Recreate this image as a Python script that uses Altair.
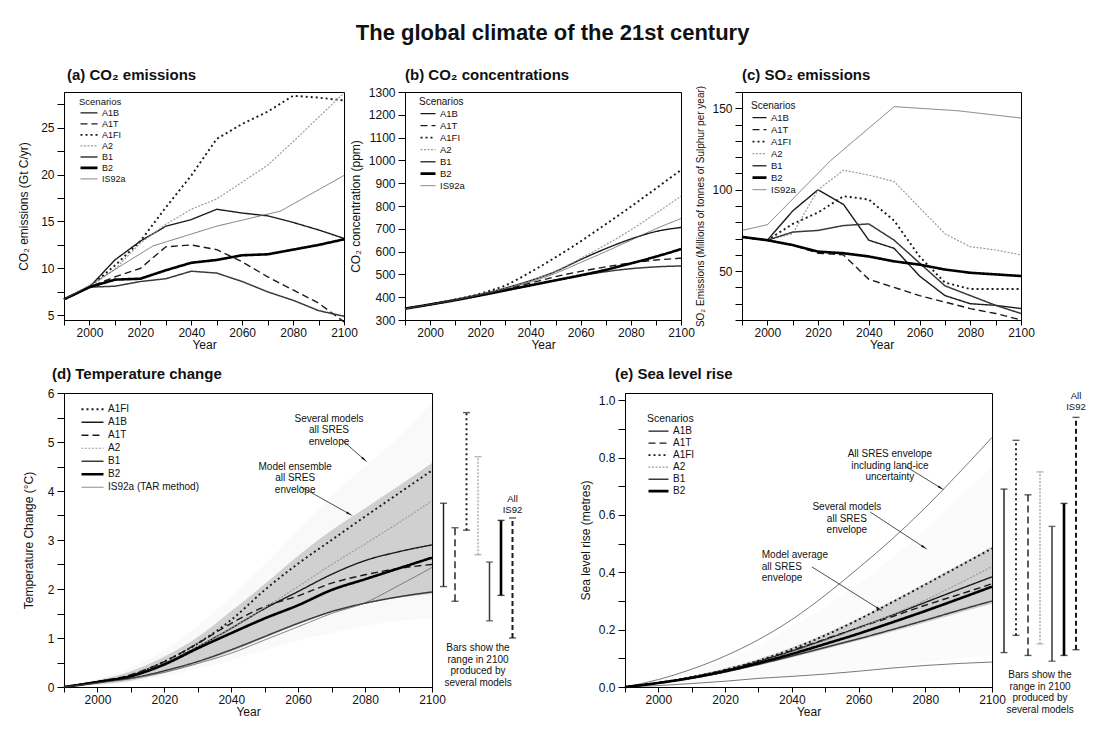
import math
import altair as alt
import pandas as pd

FONT = "Liberation Sans"

# ------------------------------------------------------------------ data
YEARS = list(range(1990, 2101, 10))
IS92_YEARS = [1990, 2000, 2025, 2050, 2075, 2100]
YEAR_TICKS = list(range(1990, 2101, 10))

ORDER_ABC = ["A1B", "A1T", "A1FI", "A2", "B1", "B2", "IS92a"]
ORDER_D = ["A1FI", "A1B", "A1T", "A2", "B1", "B2", "IS92a (TAR method)"]
ORDER_E = ["A1B", "A1T", "A1FI", "A2", "B1", "B2"]

# (a) CO2 emissions, Gt C/yr
CO2_EMIS = {
    "A1B":  [6.7, 8.0, 10.9, 12.9, 14.5, 15.2, 16.3, 15.9, 15.6, 14.9, 14.1, 13.2],
    "A1T":  [6.7, 8.0, 9.1, 10.0, 12.3, 12.5, 12.0, 10.7, 9.1, 7.7, 6.3, 4.3],
    "A1FI": [6.7, 8.0, 10.3, 12.9, 16.5, 19.9, 23.8, 25.4, 26.7, 28.4, 28.2, 27.9],
    "A2":   [6.7, 8.0, 9.9, 12.7, 14.7, 16.3, 17.4, 19.2, 21.0, 23.5, 26.1, 28.7],
    "B1":   [6.7, 8.0, 8.1, 8.6, 8.9, 9.7, 9.5, 8.6, 7.5, 6.6, 5.5, 4.9],
    "B2":   [6.7, 8.0, 8.8, 8.9, 9.8, 10.6, 10.9, 11.4, 11.5, 12.0, 12.5, 13.1],
    "IS92a": [6.7, 8.2, 12.4, 14.5, 16.1, 19.9],
}

# (b) CO2 concentrations, ppm
CO2_CONC = {
    "A1B":  [350, 368, 388, 412, 440, 473, 513, 565, 613, 655, 688, 706],
    "A1T":  [350, 368, 388, 410, 435, 462, 490, 513, 533, 550, 563, 571],
    "A1FI": [350, 368, 390, 416, 452, 510, 575, 645, 720, 797, 877, 958],
    "A2":   [350, 368, 388, 412, 440, 474, 515, 570, 630, 695, 768, 843],
    "B1":   [350, 368, 387, 408, 430, 452, 474, 494, 512, 525, 533, 537],
    "B2":   [350, 368, 387, 408, 430, 452, 474, 496, 520, 548, 578, 611],
    "IS92a": [350, 368, 388, 411, 437, 467, 505, 552, 600, 650, 700, 745],
}

# (c) SO2 emissions, Mt S/yr
SO2_EMIS = {
    "A1B":  [71, 69, 87, 100, 91, 69, 64, 47, 35, 30, 29, 27],
    "A1T":  [71, 69, 66, 61, 60, 45, 40, 35, 31, 27, 24, 20],
    "A1FI": [71, 69, 79, 86, 96, 94, 81, 59, 43, 39, 39, 39],
    "A2":   [71, 69, 73, 100, 112, 109, 105, 89, 73, 65, 63, 60],
    "B1":   [71, 69, 74, 75, 78, 79, 69, 55, 41, 35, 29, 24],
    "B2":   [71, 69, 66, 62, 61, 59, 56, 54, 51, 49, 48, 47],
    "IS92a": [75, 78.5, 118, 151, 148.5, 144],
}

# (d) temperature change, deg C
TEMP = {
    "A1FI": [0, 0.11, 0.24, 0.52, 0.89, 1.37, 1.98, 2.52, 3.00, 3.48, 3.95, 4.42],
    "A1B":  [0, 0.11, 0.23, 0.48, 0.82, 1.20, 1.60, 1.95, 2.30, 2.58, 2.76, 2.90],
    "A1T":  [0, 0.11, 0.25, 0.52, 0.89, 1.30, 1.64, 1.86, 2.12, 2.29, 2.42, 2.50],
    "A2":   [0, 0.10, 0.22, 0.48, 0.82, 1.20, 1.62, 2.05, 2.50, 2.92, 3.35, 3.80],
    "B1":   [0, 0.10, 0.18, 0.33, 0.52, 0.76, 1.03, 1.30, 1.54, 1.71, 1.84, 1.94],
    "B2":   [0, 0.10, 0.22, 0.46, 0.79, 1.10, 1.40, 1.67, 1.98, 2.20, 2.42, 2.64],
    "IS92a (TAR method)": [0, 0.08, 0.17, 0.30, 0.48, 0.69, 0.96, 1.23, 1.50, 1.72, 2.07, 2.44],
}
TEMP_ENS_LO = [0, 0.05, 0.13, 0.28, 0.48, 0.72, 1.00, 1.28, 1.52, 1.70, 1.82, 1.90]
TEMP_ENS_HI = [0, 0.14, 0.32, 0.62, 1.02, 1.55, 2.10, 2.68, 3.20, 3.65, 4.10, 4.57]
TEMP_ALL_LO = [0, 0.04, 0.10, 0.22, 0.38, 0.55, 0.75, 0.95, 1.10, 1.25, 1.35, 1.40]
TEMP_ALL_HI = [0, 0.17, 0.40, 0.75, 1.25, 1.85, 2.50, 3.20, 3.90, 4.50, 5.10, 5.80]

TEMP_BAR_CATS = ["A1B", "A1T", "A1FI", "A2", "B1", "B2", "All IS92"]
TEMP_BAR_LO = [2.05, 1.75, 3.20, 2.70, 1.35, 1.87, 1.00]
TEMP_BAR_HI = [3.75, 3.25, 5.60, 4.70, 2.55, 3.40, 3.45]

# (e) sea level rise, metres
SEA = {
    "A1B":  [0, 0.015, 0.033, 0.058, 0.088, 0.125, 0.165, 0.207, 0.250, 0.295, 0.340, 0.384],
    "A1T":  [0, 0.015, 0.034, 0.059, 0.090, 0.127, 0.167, 0.207, 0.245, 0.285, 0.322, 0.360],
    "A1FI": [0, 0.015, 0.035, 0.060, 0.092, 0.132, 0.180, 0.235, 0.295, 0.357, 0.420, 0.483],
    "A2":   [0, 0.014, 0.032, 0.056, 0.086, 0.122, 0.162, 0.205, 0.252, 0.303, 0.360, 0.420],
    "B1":   [0, 0.014, 0.031, 0.053, 0.079, 0.108, 0.138, 0.168, 0.200, 0.233, 0.267, 0.300],
    "B2":   [0, 0.014, 0.032, 0.055, 0.083, 0.115, 0.150, 0.186, 0.225, 0.265, 0.307, 0.350],
}
SEA_AVG_LO = [0, 0.012, 0.028, 0.049, 0.075, 0.103, 0.132, 0.162, 0.193, 0.225, 0.258, 0.290]
SEA_AVG_HI = [0, 0.017, 0.038, 0.065, 0.098, 0.138, 0.186, 0.240, 0.300, 0.362, 0.425, 0.490]
SEA_MOD_LO = [0, 0.005, 0.012, 0.020, 0.030, 0.040, 0.050, 0.060, 0.070, 0.085, 0.100, 0.110]
SEA_MOD_HI = [0, 0.025, 0.055, 0.095, 0.145, 0.210, 0.280, 0.360, 0.450, 0.550, 0.660, 0.770]
SEA_ICE_HI = [0, 0.026, 0.062, 0.108, 0.165, 0.235, 0.320, 0.415, 0.515, 0.625, 0.745, 0.870]
SEA_ICE_LO = [0, 0.005, 0.012, 0.020, 0.030, 0.037, 0.045, 0.055, 0.066, 0.075, 0.082, 0.087]

SEA_BAR_CATS = ["A1B", "A1FI", "A1T", "A2", "B1", "B2", "All IS92"]
SEA_BAR_LO = [0.12, 0.18, 0.11, 0.15, 0.09, 0.11, 0.13]
SEA_BAR_HI = [0.69, 0.86, 0.67, 0.75, 0.56, 0.64, 0.94]

# annotations (text, year, value) and arrows (from year, value -> to year, value)
D_NOTES = [("Several models\nall SRES\nenvelope", 2069.2, 5.47),
           ("Model ensemble\nall SRES\nenvelope", 2059.1, 4.49)]
D_ARROWS = [(2073.1, 5.04, 2079.6, 4.65), (2060.7, 4.09, 2075.1, 3.54)]
E_NOTES_C = [("All SRES envelope\nincluding land-ice\nuncertainty", 2069.4, 0.812),
             ("Several models\nall SRES\nenvelope", 2056.5, 0.627)]
E_NOTES_L = [("Model average\nall SRES\nenvelope", 2031.0, 0.46)]
E_ARROWS = [(2074.0, 0.77, 2084.5, 0.695), (2063.5, 0.61, 2079.5, 0.488),
            (2046.0, 0.419, 2066.0, 0.273)]

# ------------------------------------------------------------------ styles
STYLE = {
    "A1B": ("#1a1a1a", [1, 0], 1.4),
    "A1T": ("#1a1a1a", [7, 4], 1.4),
    "A1FI": ("#1a1a1a", [2, 3], 1.9),
    "A2": ("#9c9c9c", [2, 1.5], 1.2),
    "B1": ("#3a3a3a", [1, 0], 1.5),
    "B2": ("#000000", [1, 0], 2.6),
    "IS92a": ("#5a5a5a", [1, 0], 0.8),
    "IS92a (TAR method)": ("#5a5a5a", [1, 0], 0.8),
    "All IS92": ("#1a1a1a", [5, 3], 2.0),
}

WA, WB, WC, HT = 280, 276, 279, 228
WD, WE, HB = 368, 367, 294
WDB, WEB = 92, 96


def frame(series, order, years_override=None):
    rows = []
    for name in order:
        yrs = (years_override or {}).get(name, YEARS)
        for yr, v in zip(yrs, series[name]):
            rows.append({"year": yr, "value": v, "scenario": name})
    return pd.DataFrame(rows)


def x_enc(field="year"):
    return alt.X(field, type="quantitative",
                 scale=alt.Scale(domain=[1990, 2100], nice=False, zero=False),
                 axis=alt.Axis(values=YEAR_TICKS,
                               labelExpr="datum.value % 20 == 0 ? format(datum.value, 'd') : ''",
                               title="Year", labelFlush=False, tickSize=5,
                               labelPadding=2, titlePadding=1))


def y_enc(field, P):
    return alt.Y(field, type="quantitative",
                 scale=alt.Scale(domain=P["domain"], nice=False, zero=False),
                 axis=alt.Axis(values=P["ticks"], labelExpr=P["labels"], title=P["title"],
                               labelFlush=False, tickSize=7, labelPadding=3,
                               titlePadding=P["tpad"], titleFontSize=P["tsize"]))


def style_enc(order, title, leg):
    legend = alt.Legend(**leg)
    return dict(
        color=alt.Color("scenario:N", title=title, legend=legend,
                        scale=alt.Scale(domain=order, range=[STYLE[s][0] for s in order])),
        strokeDash=alt.StrokeDash("scenario:N", title=title, legend=legend,
                                  scale=alt.Scale(domain=order, range=[STYLE[s][1] for s in order])),
        strokeWidth=alt.StrokeWidth("scenario:N", title=title, legend=legend,
                                    scale=alt.Scale(type="ordinal", domain=order,
                                                    range=[STYLE[s][2] for s in order])),
    )


def legend_props(x, y, font, row_h, symsize):
    return dict(orient="none", legendX=x, legendY=y, symbolType="stroke", symbolSize=symsize,
                labelFontSize=font, titleFontSize=font + 0.5, titleFontWeight="normal",
                rowPadding=0, clipHeight=row_h, titlePadding=1, labelOffset=3, padding=0,
                labelFont=FONT, titleFont=FONT, labelColor="#111", titleColor="#111")


def ptitle(text, dx, offset):
    return alt.TitleParams(text=text, anchor="start", frame="group", fontSize=15,
                           fontWeight="bold", font=FONT, dx=dx, offset=offset, color="#111")


def lines(df, P, order, title, leg, interp):
    return alt.Chart(df).mark_line(interpolate=interp, strokeCap="butt").encode(
        x=x_enc(), y=y_enc("value", P), **style_enc(order, title, leg))


def band(lo, hi, P, color):
    df = pd.DataFrame({"year": YEARS, "lo": lo, "hi": hi})
    return alt.Chart(df).mark_area(color=color, interpolate="monotone").encode(
        x=x_enc(), y=y_enc("lo", P), y2="hi:Q")


def arrows(arr, P, w, h):
    ppx = w / 110.0
    ppy = h / (P["domain"][1] - P["domain"][0])
    rows = []
    for x1, y1, x2, y2 in arr:
        dxp = (x2 - x1) * ppx
        dyp = -(y2 - y1) * ppy
        ang = math.degrees(math.atan2(dxp, -dyp)) % 360
        rows.append({"x1": x1, "y1": y1, "x2": x2, "y2": y2, "ang": ang})
    df = pd.DataFrame(rows)
    shaft = alt.Chart(df).mark_rule(color="#222", strokeWidth=0.8).encode(
        x=x_enc("x1"), y=y_enc("y1", P), x2="x2:Q", y2="y2:Q")
    head = alt.Chart(df).mark_point(shape="wedge", filled=True, color="#111", size=70, opacity=1).encode(
        x=x_enc("x2"), y=y_enc("y2", P), angle=alt.Angle("ang:Q", scale=None))
    return [shaft, head]


def notes(items, P, align):
    df = pd.DataFrame([{"t": t, "x": x, "y": y} for t, x, y in items])
    return alt.Chart(df).mark_text(lineBreak="\n", align=align, baseline="middle", fontSize=10,
                                   lineHeight=11.5, font=FONT, color="#111").encode(
        x=x_enc("x"), y=y_enc("y", P), text="t:N")


def bars_panel(cats, lows, highs, P, w, h, pad, note_dy, top_dy):
    df = pd.DataFrame({"cat": cats, "lo": lows, "hi": highs})
    xs = alt.X("cat:N", scale=alt.Scale(type="point", domain=cats, padding=pad), axis=None)
    ys = alt.Scale(domain=P["domain"], nice=False, zero=False)
    col = alt.Color("cat:N", legend=None,
                    scale=alt.Scale(domain=cats, range=[STYLE[c][0] for c in cats]))
    dash = alt.StrokeDash("cat:N", legend=None,
                          scale=alt.Scale(domain=cats, range=[STYLE[c][1] for c in cats]))
    width = alt.StrokeWidth("cat:N", legend=None,
                            scale=alt.Scale(type="ordinal", domain=cats,
                                            range=[STYLE[c][2] for c in cats]))
    rule = alt.Chart(df).mark_rule().encode(
        x=xs, y=alt.Y("lo:Q", scale=ys, axis=None), y2="hi:Q",
        strokeDash=dash, strokeWidth=width, color=col)
    cap_lo = alt.Chart(df).mark_tick(size=7, thickness=1.4).encode(
        x=xs, y=alt.Y("lo:Q", scale=ys, axis=None), color=col)
    cap_hi = alt.Chart(df).mark_tick(size=7, thickness=1.4).encode(
        x=xs, y=alt.Y("hi:Q", scale=ys, axis=None), color=col)
    all_lab = alt.Chart(df[df["cat"] == "All IS92"]).mark_text(
        text="All\nIS92", lineBreak="\n", baseline="bottom", fontSize=9.5, lineHeight=11,
        font=FONT, color="#111", dy=top_dy).encode(x=xs, y=alt.Y("hi:Q", scale=ys, axis=None))
    note = alt.Chart(pd.DataFrame({"v": [P["domain"][0]]})).mark_text(
        text="Bars show the\nrange in 2100\nproduced by\nseveral models", lineBreak="\n",
        baseline="middle", fontSize=10, lineHeight=11.5, font=FONT, color="#111",
        dy=note_dy).encode(x=alt.value(w / 2), y=alt.Y("v:Q", scale=ys, axis=None))
    return alt.layer(rule, cap_lo, cap_hi, all_lab, note).properties(
        width=w, height=h, view=alt.ViewConfig(strokeOpacity=0))


# ------------------------------------------------------------------ axes per panel
PA = dict(domain=[4.5, 28.8], ticks=[5 + 2.5 * i for i in range(10)],
          labels="datum.value % 5 == 0 ? format(datum.value, 'd') : ''",
          title="CO₂ emissions (Gt C/yr)", tpad=10, tsize=12)
PB = dict(domain=[300, 1300], ticks=list(range(300, 1301, 100)),
          labels="format(datum.value, 'd')",
          title="CO₂ concentration (ppm)", tpad=6, tsize=12)
PC = dict(domain=[20, 160], ticks=list(range(20, 161, 10)),
          labels="datum.value % 50 == 0 ? format(datum.value, 'd') : ''",
          title="SO₂ Emissions (Millions of tonnes of Sulphur per year)", tpad=6, tsize=10)
PD = dict(domain=[0, 6], ticks=[0.5 * i for i in range(13)],
          labels="datum.value % 1 == 0 ? format(datum.value, 'd') : ''",
          title="Temperature Change (°C)", tpad=12, tsize=12)
PE = dict(domain=[0, 1.025], ticks=[round(0.1 * i, 1) for i in range(11)],
          labels="round(datum.value * 10) % 2 == 0 ? format(datum.value, '.1f') : ''",
          title="Sea level rise (metres)", tpad=6, tsize=12)

# ------------------------------------------------------------------ panels
chart_a = lines(frame(CO2_EMIS, ORDER_ABC, {"IS92a": IS92_YEARS}), PA, ORDER_ABC, "Scenarios",
                legend_props(15, 5, 9, 10.8, 289), "linear").properties(
    width=WA, height=HT, title=ptitle("(a) CO₂ emissions", 3, 8))

chart_b = lines(frame(CO2_CONC, ORDER_ABC), PB, ORDER_ABC, "Scenarios",
                legend_props(14, 5, 9.5, 11.3, 225), "monotone").properties(
    width=WB, height=HT, title=ptitle("(b) CO₂ concentrations", 0, 3))

chart_c = lines(frame(SO2_EMIS, ORDER_ABC, {"IS92a": IS92_YEARS}), PC, ORDER_ABC, "Scenarios",
                legend_props(9, 9, 9.5, 11.3, 196), "linear").properties(
    width=WC, height=HT, title=ptitle("(c) SO₂ emissions", 0, 2))

chart_d = alt.layer(
    band(TEMP_ALL_LO, TEMP_ALL_HI, PD, "#f9f9f9"),
    band(TEMP_ENS_LO, TEMP_ENS_HI, PD, "#d0d0d0"),
    lines(frame(TEMP, ORDER_D), PD, ORDER_D, None, legend_props(16, 10, 10, 12.5, 484), "monotone"),
    *arrows(D_ARROWS, PD, WD, HB),
    notes(D_NOTES, PD, "center"),
).properties(width=WD, height=HB, title=ptitle("(d) Temperature change", -12, 5))

ice = pd.DataFrame({"year": YEARS * 2, "value": SEA_ICE_HI + SEA_ICE_LO,
                    "edge": ["hi"] * len(YEARS) + ["lo"] * len(YEARS)})
ice_lines = alt.Chart(ice).mark_line(color="#555", strokeWidth=0.8, interpolate="monotone").encode(
    x=x_enc(), y=y_enc("value", PE), detail="edge:N")

chart_e = alt.layer(
    band(SEA_MOD_LO, SEA_MOD_HI, PE, "#fbfbfb"),
    band(SEA_AVG_LO, SEA_AVG_HI, PE, "#d0d0d0"),
    ice_lines,
    lines(frame(SEA, ORDER_E), PE, ORDER_E, "Scenarios", legend_props(22, 21, 10, 11.3, 400), "monotone"),
    *arrows(E_ARROWS, PE, WE, HB),
    notes(E_NOTES_C, PE, "center"),
    notes(E_NOTES_L, PE, "left"),
).properties(width=WE, height=HB, title=ptitle("(e) Sea level rise", -10, 11))

bars_d = bars_panel(TEMP_BAR_CATS, TEMP_BAR_LO, TEMP_BAR_HI, PD, WDB, HB, 1.1, -39, -14)
bars_e = bars_panel(SEA_BAR_CATS, SEA_BAR_LO, SEA_BAR_HI, PE, WEB, HB, 1.6, -12, -16)

IND = dict(color="independent", strokeDash="independent", strokeWidth="independent")

top = alt.hconcat(chart_a, chart_b, chart_c, spacing=61, bounds="flush").resolve_scale(**IND)
left_bottom = alt.hconcat(chart_d, bars_d, spacing=0, bounds="flush").resolve_scale(**IND)
right_bottom = alt.hconcat(chart_e, bars_e, spacing=0, bounds="flush").resolve_scale(**IND)
bottom = alt.hconcat(left_bottom, right_bottom, spacing=54).resolve_scale(**IND)

chart = alt.vconcat(top, bottom, spacing=15).resolve_scale(**IND).properties(
    title=alt.TitleParams(text="The global climate of the 21st century", anchor="middle",
                          fontSize=22, fontWeight="bold", font=FONT, color="#111", offset=22),
    padding={"left": 17, "top": 22, "right": 5, "bottom": 5},
    background="white",
).configure_axis(
    grid=False, domainColor="#000", tickColor="#000", labelColor="#111", titleColor="#111",
    labelFont=FONT, titleFont=FONT, labelFontSize=12, titleFontSize=12, titleFontWeight="normal",
).configure_view(stroke="#000", strokeWidth=1)

chart.save("out.html", embed_options={"renderer": "svg", "actions": False})
